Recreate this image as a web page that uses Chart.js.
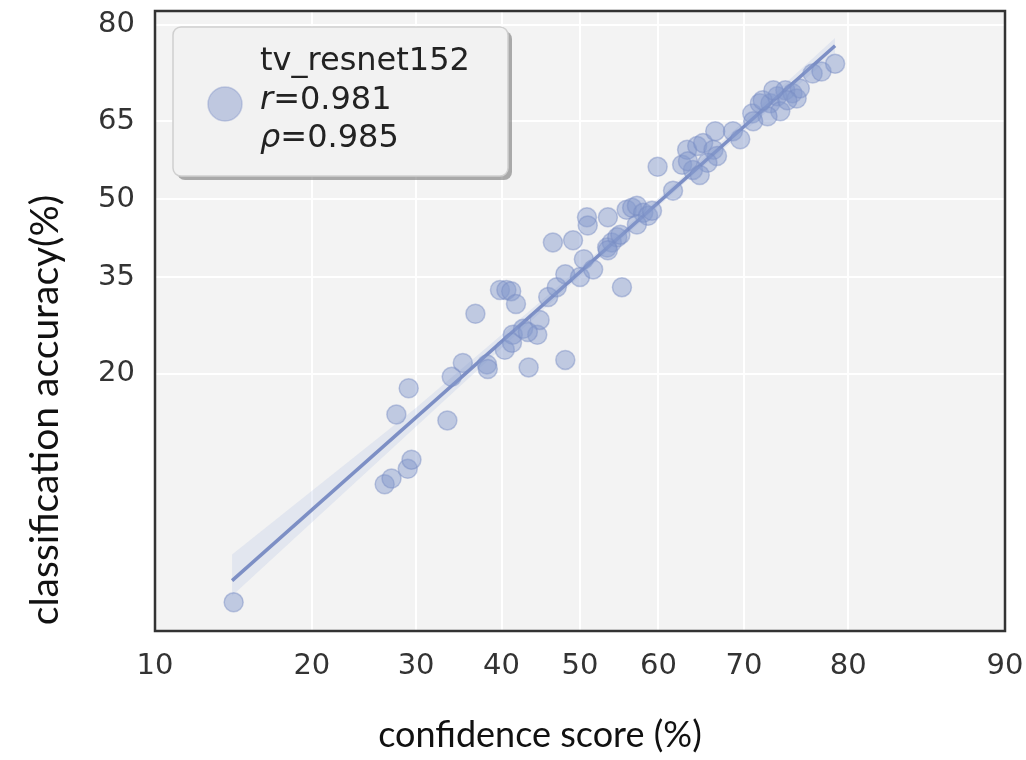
<!DOCTYPE html>
<html>
<head>
<meta charset="utf-8">
<script src="https://cdn.jsdelivr.net/npm/chart.js"></script>
<style>
  body { margin: 0; background: #fff; }
  #wrap { width: 1026px; height: 760px; }
</style>
</head>
<body>
<div id="wrap"><canvas id="chart" width="1026" height="760"></canvas></div>
<script>
// one point per model group: mean confidence vs top-1 accuracy (%)
var confidence = [14.3, 26.7, 27.4, 29.1, 29.5, 27.9, 29.2, 33.5, 34.0, 35.3,
  38.2, 38.3, 36.8, 39.8, 40.6, 41.2, 41.8, 40.4, 41.4, 41.3,
  42.7, 44.5, 44.8, 43.4, 48.1, 45.9, 47.0, 48.1, 50.0, 50.5,
  51.7, 46.5, 49.1, 50.9, 51.0, 53.6, 55.4, 53.5, 54.1, 54.8,
  55.2, 53.6, 56.0, 56.7, 57.3, 58.1, 58.7, 59.2, 57.3, 59.9,
  61.8, 62.9, 63.5, 64.7, 65.4, 66.6, 67.0, 65.9, 64.2, 65.0,
  63.6, 66.8, 68.8, 69.6, 70.9, 71.7, 72.8, 73.5, 74.3, 75.0,
  75.4, 75.7, 73.8, 72.5, 71.0, 76.9, 77.7, 78.9, 72.0, 74.5,
  73.1, 43.3];
var accuracy = [3.9, 9.4, 9.8, 10.5, 11.2, 15.3, 18.2, 14.7, 19.6, 21.4,
  21.2, 20.6, 28.7, 32.7, 32.7, 32.5, 30.3, 23.2, 25.4, 24.2,
  26.3, 25.4, 27.7, 20.8, 21.8, 31.5, 33.2, 35.5, 35.0, 38.3,
  36.4, 41.5, 41.9, 46.4, 44.8, 46.4, 33.2, 40.5, 41.5, 42.5,
  43.0, 40.0, 47.9, 48.3, 48.7, 47.3, 46.7, 47.7, 45.0, 56.4,
  51.7, 56.8, 59.7, 60.4, 61.0, 59.7, 58.5, 57.2, 55.8, 54.8,
  57.5, 63.2, 63.2, 61.7, 66.4, 68.2, 68.2, 69.4, 70.4, 69.9,
  69.0, 70.7, 66.8, 65.9, 65.0, 73.1, 73.4, 74.6, 68.7, 68.7,
  70.4, 25.8];

// regression line and its confidence band
var fitX = [14.2, 78.9];
var fitY = [4.6, 77.2];
var bandX = [14.2, 30, 50, 65, 78.9];
var bandUpper = [5.6, 16.0, 36.7, 57.4, 78.3];
var bandLower = [4.1, 14.1, 35.2, 55.9, 76.1];

var xTicks = [10, 20, 30, 40, 50, 60, 70, 80, 90];
var yTicks = [20, 35, 50, 65, 80];
var xRange = [10, 90];
var yRange = [3.13, 81.7];

var modelName = 'tv_resnet152';
var pearsonR = '0.981';
var spearmanRho = '0.985';

function logit(p) { p = p / 100; return Math.log(p / (1 - p)); }
function expit(t) { return 100 / (1 + Math.exp(-t)); }

// axis that is linear in logit(p)
class LogitScale extends Chart.LinearScale {
  configure() {
    super.configure();
    this._lo = logit(this.min);
    this._hi = logit(this.max);
  }
  getPixelForValue(value) {
    return this.getPixelForDecimal((logit(value) - this._lo) / (this._hi - this._lo));
  }
  getValueForPixel(pixel) {
    return expit(this._lo + this.getDecimalForPixel(pixel) * (this._hi - this._lo));
  }
}
LogitScale.id = 'logit';
LogitScale.defaults = Chart.LinearScale.defaults;
Chart.register(LogitScale);

function pairs(xs, ys) {
  return xs.map(function(x, i) { return { x: x, y: ys[i] }; });
}

var decor = {
  id: 'decor',
  beforeDraw: function(chart) {
    var ctx = chart.ctx, a = chart.chartArea;
    ctx.save();
    ctx.fillStyle = '#f3f3f3';
    ctx.fillRect(a.left, a.top, a.right - a.left, a.bottom - a.top);
    ctx.restore();
  },
  afterDraw: function(chart) {
    var ctx = chart.ctx, a = chart.chartArea;
    ctx.save();
    // frame
    ctx.strokeStyle = '#333';
    ctx.lineWidth = 2.5;
    ctx.strokeRect(a.left, a.top, a.right - a.left, a.bottom - a.top);

    // legend box
    var bx = a.left + 18, by = a.top + 16, bw = 335, bh = 149;
    ctx.fillStyle = 'rgba(120,120,120,0.6)';
    ctx.beginPath();
    ctx.roundRect(bx + 4, by + 4, bw, bh, 8);
    ctx.fill();
    ctx.fillStyle = '#f2f2f2';
    ctx.strokeStyle = '#cfcfcf';
    ctx.lineWidth = 1.5;
    ctx.beginPath();
    ctx.roundRect(bx, by, bw, bh, 8);
    ctx.fill();
    ctx.stroke();

    ctx.fillStyle = 'rgba(140,158,205,0.5)';
    ctx.strokeStyle = 'rgba(130,148,200,0.4)';
    ctx.beginPath();
    ctx.arc(bx + 52, by + 77, 17, 0, Math.PI * 2);
    ctx.fill();
    ctx.stroke();

    ctx.fillStyle = '#222';
    ctx.textBaseline = 'middle';
    ctx.textAlign = 'left';
    var tx = bx + 87;
    ctx.font = '32px "DejaVu Sans"';
    ctx.fillText(modelName, tx, by + 35);
    ctx.font = 'italic 32px "DejaVu Sans"';
    ctx.fillText('r', tx, by + 74);
    var w1 = ctx.measureText('r').width;
    ctx.fillText('\u03C1', tx, by + 112);
    var w2 = ctx.measureText('\u03C1').width;
    ctx.font = '32px "DejaVu Sans"';
    ctx.fillText('=' + pearsonR, tx + w1, by + 74);
    ctx.fillText('=' + spearmanRho, tx + w2, by + 112);

    // axis titles
    ctx.fillStyle = '#111';
    ctx.textAlign = 'center';
    ctx.font = '36px Lato';
    ctx.fillText('confidence score (%)', 540, 735);
    ctx.translate(45, 410);
    ctx.rotate(-Math.PI / 2);
    ctx.font = '39px Lato';
    ctx.fillText('classification accuracy(%)', 0, 0);
    ctx.restore();
  }
};

var tickFont = { family: 'DejaVu Sans', size: 29 };

new Chart(document.getElementById('chart').getContext('2d'), {
  type: 'scatter',
  data: {
    datasets: [{
      data: pairs(confidence, accuracy),
      backgroundColor: 'rgba(132,152,204,0.47)',
      borderColor: 'rgba(120,140,196,0.45)',
      borderWidth: 1.5,
      pointRadius: 9.5,
      order: 0
    }, {
      type: 'line',
      data: pairs(fitX, fitY),
      borderColor: '#7d8fc5',
      borderWidth: 3.5,
      pointRadius: 0,
      fill: false,
      order: 1
    }, {
      type: 'line',
      data: pairs(bandX, bandUpper),
      borderWidth: 0,
      borderColor: 'rgba(0,0,0,0)',
      backgroundColor: 'rgba(175,190,228,0.25)',
      pointRadius: 0,
      fill: '+1',
      order: 2
    }, {
      type: 'line',
      data: pairs(bandX, bandLower),
      borderWidth: 0,
      borderColor: 'rgba(0,0,0,0)',
      pointRadius: 0,
      fill: false,
      order: 2
    }]
  },
  options: {
    responsive: false,
    animation: false,
    layout: { padding: { top: 6, right: 21, left: 0, bottom: 0 } },
    plugins: { legend: { display: false }, tooltip: { enabled: false } },
    scales: {
      x: {
        type: 'logit',
        min: xRange[0],
        max: xRange[1],
        bounds: 'data',
        afterBuildTicks: function(s) { s.ticks = xTicks.map(function(v) { return { value: v }; }); },
        afterFit: function(s) { s.height = 129; s.paddingLeft = 0; s.paddingRight = 0; },
        grid: { color: '#ffffff', lineWidth: 2, drawTicks: false },
        border: { display: false },
        ticks: { font: tickFont, color: '#333', padding: 18, autoSkip: false, maxRotation: 0,
          callback: function(v) { return v; } }
      },
      y: {
        type: 'logit',
        min: yRange[0],
        max: yRange[1],
        bounds: 'data',
        afterBuildTicks: function(s) { s.ticks = yTicks.map(function(v) { return { value: v }; }); },
        afterFit: function(s) { s.width = 155; s.paddingTop = 0; s.paddingBottom = 0; },
        grid: { color: '#ffffff', lineWidth: 2, drawTicks: false },
        border: { display: false },
        ticks: { font: tickFont, color: '#333', padding: 20,
          callback: function(v) { return v; } }
      }
    }
  },
  plugins: [decor]
});
</script>
</body>
</html>
